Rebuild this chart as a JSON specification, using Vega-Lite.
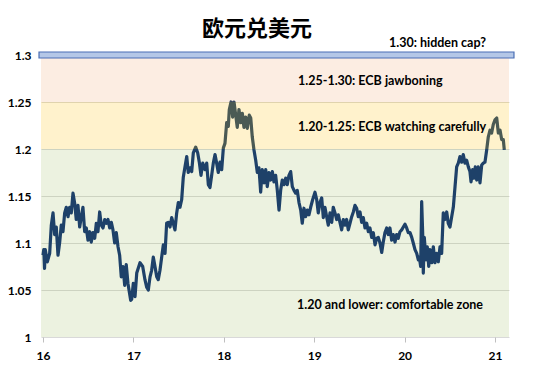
{
  "$schema": "https://vega.github.io/schema/vega-lite/v6.json",
  "width": 468,
  "height": 282,
  "autosize": {"type": "none"},
  "padding": {"left": 41, "top": 55, "right": 41, "bottom": 43},
  "background": "white",
  "title": {"text": "欧元兑美元", "font": "Noto Sans CJK SC", "fontSize": 22, "fontWeight": "bold", "color": "#000000", "anchor": "middle", "offset": -4, "dx": -18},
  "config": {
    "view": {"stroke": null},
    "axis": {"labelFont": "Lato", "labelFontWeight": "bold", "labelFontSize": 12, "labelColor": "#000000"}
  },
  "datasets": {
    "bands": [
      {"zone": "green", "lo": 1.0, "hi": 1.2},
      {"zone": "yellow", "lo": 1.2, "hi": 1.25},
      {"zone": "pink", "lo": 1.25, "hi": 1.3}
    ],
    "cap": [{"x1": 15.956, "x2": 21.21, "lo": 1.2968, "hi": 1.3032}],
    "notes": [
      {"label": "1.30: hidden cap?", "t": 19.827, "v": 1.3128},
      {"label": "1.25-1.30: ECB jawboning", "t": 18.821, "v": 1.2723},
      {"label": "1.20-1.25: ECB watching carefully", "t": 18.821, "v": 1.2234},
      {"label": "1.20 and lower: comfortable zone", "t": 18.81, "v": 1.034}
    ],
    "fx": [
      {"t": 16.000, "v": 1.087}, {"t": 16.009, "v": 1.093}, {"t": 16.017, "v": 1.073}, {"t": 16.025, "v": 1.093},
      {"t": 16.048, "v": 1.080}, {"t": 16.074, "v": 1.089}, {"t": 16.092, "v": 1.119}, {"t": 16.111, "v": 1.132},
      {"t": 16.129, "v": 1.109}, {"t": 16.147, "v": 1.117}, {"t": 16.166, "v": 1.087}, {"t": 16.185, "v": 1.101},
      {"t": 16.202, "v": 1.119}, {"t": 16.221, "v": 1.112}, {"t": 16.240, "v": 1.132}, {"t": 16.258, "v": 1.138},
      {"t": 16.277, "v": 1.128}, {"t": 16.295, "v": 1.138}, {"t": 16.313, "v": 1.132}, {"t": 16.332, "v": 1.153},
      {"t": 16.351, "v": 1.142}, {"t": 16.368, "v": 1.125}, {"t": 16.387, "v": 1.140}, {"t": 16.406, "v": 1.117},
      {"t": 16.424, "v": 1.128}, {"t": 16.442, "v": 1.138}, {"t": 16.461, "v": 1.112}, {"t": 16.479, "v": 1.116},
      {"t": 16.498, "v": 1.103}, {"t": 16.517, "v": 1.112}, {"t": 16.534, "v": 1.101}, {"t": 16.553, "v": 1.111},
      {"t": 16.572, "v": 1.105}, {"t": 16.590, "v": 1.121}, {"t": 16.608, "v": 1.112}, {"t": 16.627, "v": 1.133},
      {"t": 16.645, "v": 1.119}, {"t": 16.664, "v": 1.116}, {"t": 16.683, "v": 1.125}, {"t": 16.700, "v": 1.121},
      {"t": 16.719, "v": 1.125}, {"t": 16.738, "v": 1.116}, {"t": 16.756, "v": 1.122}, {"t": 16.774, "v": 1.114},
      {"t": 16.793, "v": 1.100}, {"t": 16.811, "v": 1.111}, {"t": 16.830, "v": 1.096}, {"t": 16.848, "v": 1.087},
      {"t": 16.866, "v": 1.064}, {"t": 16.885, "v": 1.075}, {"t": 16.904, "v": 1.055}, {"t": 16.921, "v": 1.077},
      {"t": 16.940, "v": 1.057}, {"t": 16.970, "v": 1.039}, {"t": 16.981, "v": 1.040}, {"t": 16.999, "v": 1.057},
      {"t": 17.018, "v": 1.043}, {"t": 17.037, "v": 1.068}, {"t": 17.073, "v": 1.079}, {"t": 17.103, "v": 1.075},
      {"t": 17.128, "v": 1.061}, {"t": 17.147, "v": 1.053}, {"t": 17.165, "v": 1.050}, {"t": 17.184, "v": 1.064},
      {"t": 17.202, "v": 1.071}, {"t": 17.220, "v": 1.085}, {"t": 17.239, "v": 1.075}, {"t": 17.258, "v": 1.064},
      {"t": 17.275, "v": 1.061}, {"t": 17.294, "v": 1.071}, {"t": 17.313, "v": 1.085}, {"t": 17.331, "v": 1.098},
      {"t": 17.350, "v": 1.089}, {"t": 17.368, "v": 1.121}, {"t": 17.386, "v": 1.122}, {"t": 17.405, "v": 1.117},
      {"t": 17.424, "v": 1.127}, {"t": 17.441, "v": 1.121}, {"t": 17.460, "v": 1.114}, {"t": 17.479, "v": 1.132},
      {"t": 17.497, "v": 1.143}, {"t": 17.515, "v": 1.138}, {"t": 17.534, "v": 1.146}, {"t": 17.552, "v": 1.170},
      {"t": 17.571, "v": 1.181}, {"t": 17.590, "v": 1.192}, {"t": 17.607, "v": 1.175}, {"t": 17.626, "v": 1.180},
      {"t": 17.645, "v": 1.176}, {"t": 17.663, "v": 1.196}, {"t": 17.689, "v": 1.202}, {"t": 17.711, "v": 1.196},
      {"t": 17.729, "v": 1.186}, {"t": 17.748, "v": 1.172}, {"t": 17.767, "v": 1.185}, {"t": 17.792, "v": 1.178},
      {"t": 17.811, "v": 1.185}, {"t": 17.829, "v": 1.162}, {"t": 17.847, "v": 1.159}, {"t": 17.866, "v": 1.172},
      {"t": 17.884, "v": 1.185}, {"t": 17.903, "v": 1.194}, {"t": 17.921, "v": 1.185}, {"t": 17.939, "v": 1.175},
      {"t": 17.958, "v": 1.186}, {"t": 17.977, "v": 1.178}, {"t": 17.995, "v": 1.201}, {"t": 18.013, "v": 1.206},
      {"t": 18.032, "v": 1.228}, {"t": 18.050, "v": 1.224}, {"t": 18.061, "v": 1.242}, {"t": 18.080, "v": 1.250},
      {"t": 18.098, "v": 1.234}, {"t": 18.113, "v": 1.250}, {"t": 18.132, "v": 1.236}, {"t": 18.149, "v": 1.223},
      {"t": 18.168, "v": 1.242}, {"t": 18.187, "v": 1.228}, {"t": 18.205, "v": 1.238}, {"t": 18.223, "v": 1.223},
      {"t": 18.242, "v": 1.234}, {"t": 18.260, "v": 1.222}, {"t": 18.282, "v": 1.236}, {"t": 18.298, "v": 1.233},
      {"t": 18.315, "v": 1.213}, {"t": 18.334, "v": 1.199}, {"t": 18.353, "v": 1.188}, {"t": 18.371, "v": 1.175},
      {"t": 18.389, "v": 1.180}, {"t": 18.408, "v": 1.154}, {"t": 18.426, "v": 1.178}, {"t": 18.445, "v": 1.164},
      {"t": 18.464, "v": 1.178}, {"t": 18.481, "v": 1.160}, {"t": 18.500, "v": 1.175}, {"t": 18.519, "v": 1.167},
      {"t": 18.537, "v": 1.176}, {"t": 18.555, "v": 1.165}, {"t": 18.574, "v": 1.172}, {"t": 18.592, "v": 1.156},
      {"t": 18.611, "v": 1.135}, {"t": 18.629, "v": 1.156}, {"t": 18.647, "v": 1.167}, {"t": 18.666, "v": 1.162},
      {"t": 18.685, "v": 1.169}, {"t": 18.702, "v": 1.162}, {"t": 18.721, "v": 1.172}, {"t": 18.740, "v": 1.176},
      {"t": 18.758, "v": 1.160}, {"t": 18.777, "v": 1.156}, {"t": 18.795, "v": 1.153}, {"t": 18.813, "v": 1.156},
      {"t": 18.832, "v": 1.143}, {"t": 18.851, "v": 1.135}, {"t": 18.868, "v": 1.121}, {"t": 18.887, "v": 1.137},
      {"t": 18.906, "v": 1.128}, {"t": 18.924, "v": 1.135}, {"t": 18.942, "v": 1.130}, {"t": 18.961, "v": 1.138},
      {"t": 18.983, "v": 1.146}, {"t": 19.009, "v": 1.154}, {"t": 19.028, "v": 1.146}, {"t": 19.045, "v": 1.132},
      {"t": 19.064, "v": 1.143}, {"t": 19.083, "v": 1.148}, {"t": 19.101, "v": 1.127}, {"t": 19.119, "v": 1.138},
      {"t": 19.138, "v": 1.128}, {"t": 19.156, "v": 1.119}, {"t": 19.175, "v": 1.132}, {"t": 19.194, "v": 1.122},
      {"t": 19.211, "v": 1.138}, {"t": 19.230, "v": 1.132}, {"t": 19.249, "v": 1.125}, {"t": 19.267, "v": 1.130},
      {"t": 19.285, "v": 1.122}, {"t": 19.304, "v": 1.114}, {"t": 19.322, "v": 1.125}, {"t": 19.341, "v": 1.119},
      {"t": 19.359, "v": 1.125}, {"t": 19.377, "v": 1.114}, {"t": 19.396, "v": 1.121}, {"t": 19.415, "v": 1.128},
      {"t": 19.433, "v": 1.133}, {"t": 19.451, "v": 1.140}, {"t": 19.470, "v": 1.137}, {"t": 19.488, "v": 1.128},
      {"t": 19.507, "v": 1.133}, {"t": 19.525, "v": 1.122}, {"t": 19.543, "v": 1.127}, {"t": 19.562, "v": 1.116},
      {"t": 19.581, "v": 1.121}, {"t": 19.599, "v": 1.112}, {"t": 19.617, "v": 1.116}, {"t": 19.636, "v": 1.106},
      {"t": 19.654, "v": 1.111}, {"t": 19.673, "v": 1.098}, {"t": 19.691, "v": 1.105}, {"t": 19.709, "v": 1.106},
      {"t": 19.728, "v": 1.100}, {"t": 19.747, "v": 1.090}, {"t": 19.764, "v": 1.101}, {"t": 19.783, "v": 1.111},
      {"t": 19.802, "v": 1.116}, {"t": 19.820, "v": 1.109}, {"t": 19.838, "v": 1.116}, {"t": 19.857, "v": 1.103},
      {"t": 19.875, "v": 1.109}, {"t": 19.894, "v": 1.101}, {"t": 19.912, "v": 1.109}, {"t": 19.930, "v": 1.105},
      {"t": 19.949, "v": 1.112}, {"t": 19.968, "v": 1.114}, {"t": 19.986, "v": 1.117}, {"t": 20.004, "v": 1.120},
      {"t": 20.023, "v": 1.116}, {"t": 20.041, "v": 1.111}, {"t": 20.060, "v": 1.111}, {"t": 20.079, "v": 1.106},
      {"t": 20.096, "v": 1.100}, {"t": 20.115, "v": 1.093}, {"t": 20.134, "v": 1.089}, {"t": 20.152, "v": 1.082},
      {"t": 20.163, "v": 1.085}, {"t": 20.178, "v": 1.075}, {"t": 20.189, "v": 1.144}, {"t": 20.200, "v": 1.111},
      {"t": 20.207, "v": 1.068}, {"t": 20.218, "v": 1.106}, {"t": 20.237, "v": 1.082}, {"t": 20.251, "v": 1.096},
      {"t": 20.267, "v": 1.075}, {"t": 20.281, "v": 1.093}, {"t": 20.300, "v": 1.079}, {"t": 20.318, "v": 1.096},
      {"t": 20.336, "v": 1.079}, {"t": 20.355, "v": 1.089}, {"t": 20.373, "v": 1.080}, {"t": 20.392, "v": 1.096},
      {"t": 20.410, "v": 1.089}, {"t": 20.428, "v": 1.132}, {"t": 20.447, "v": 1.125}, {"t": 20.466, "v": 1.133},
      {"t": 20.483, "v": 1.121}, {"t": 20.502, "v": 1.117}, {"t": 20.521, "v": 1.128}, {"t": 20.539, "v": 1.138},
      {"t": 20.558, "v": 1.160}, {"t": 20.576, "v": 1.181}, {"t": 20.594, "v": 1.185}, {"t": 20.613, "v": 1.192},
      {"t": 20.632, "v": 1.186}, {"t": 20.649, "v": 1.194}, {"t": 20.668, "v": 1.185}, {"t": 20.687, "v": 1.188},
      {"t": 20.705, "v": 1.181}, {"t": 20.723, "v": 1.176}, {"t": 20.735, "v": 1.165}, {"t": 20.753, "v": 1.178},
      {"t": 20.768, "v": 1.169}, {"t": 20.782, "v": 1.181}, {"t": 20.798, "v": 1.167}, {"t": 20.815, "v": 1.181},
      {"t": 20.834, "v": 1.164}, {"t": 20.853, "v": 1.183}, {"t": 20.871, "v": 1.185}, {"t": 20.889, "v": 1.186},
      {"t": 20.908, "v": 1.199}, {"t": 20.926, "v": 1.213}, {"t": 20.945, "v": 1.220}, {"t": 20.963, "v": 1.217},
      {"t": 20.981, "v": 1.226}, {"t": 21.000, "v": 1.231}, {"t": 21.019, "v": 1.233}, {"t": 21.037, "v": 1.217},
      {"t": 21.056, "v": 1.220}, {"t": 21.074, "v": 1.210}, {"t": 21.092, "v": 1.210}, {"t": 21.103, "v": 1.199}
    ]
  },
  "layer": [
    {
      "data": {"name": "bands"},
      "transform": [{"filter": "datum.zone === 'green'"}],
      "mark": {"type": "rect", "fill": "#9BBB59", "opacity": 0.19},
      "encoding": {
        "y": {"field": "lo", "type": "quantitative", "scale": {"domain": [1, 1.3], "nice": false, "zero": false}},
        "y2": {"field": "hi"}
      }
    },
    {
      "data": {"name": "fx"},
      "mark": {"type": "line", "stroke": "#1E4169", "strokeWidth": 3.2, "strokeJoin": "round"},
      "encoding": {
        "x": {
          "field": "t", "type": "quantitative",
          "scale": {"domain": [15.978, 21.155], "nice": false, "zero": false},
          "axis": {"title": null, "values": [16, 17, 18, 19, 20, 21], "format": "d", "grid": false, "domain": false, "ticks": true, "tickColor": "#bfbfbf", "tickSize": 5, "labelPadding": 8}
        },
        "y": {
          "field": "v", "type": "quantitative",
          "scale": {"domain": [1, 1.3], "nice": false, "zero": false},
          "axis": {"title": null, "values": [1, 1.05, 1.1, 1.15, 1.2, 1.25, 1.3], "format": ".3~g", "domain": false, "ticks": false, "labelPadding": 10, "grid": true, "gridColor": "#d9d9d9", "gridWidth": 1}
        }
      }
    },
    {
      "data": {"name": "bands"},
      "transform": [{"filter": "datum.zone === 'yellow'"}],
      "mark": {"type": "rect", "fill": "#FFC000", "opacity": 0.2},
      "encoding": {
        "y": {"field": "lo", "type": "quantitative"},
        "y2": {"field": "hi"}
      }
    },
    {
      "data": {"name": "bands"},
      "transform": [{"filter": "datum.zone === 'pink'"}],
      "mark": {"type": "rect", "fill": "#ED7D31", "opacity": 0.14},
      "encoding": {
        "y": {"field": "lo", "type": "quantitative"},
        "y2": {"field": "hi"}
      }
    },
    {
      "data": {"name": "cap"},
      "mark": {"type": "rect", "fill": "#B4C7E7", "stroke": "#4A6FB5", "strokeWidth": 1.2},
      "encoding": {
        "x": {"field": "x1", "type": "quantitative"},
        "x2": {"field": "x2"},
        "y": {"field": "lo", "type": "quantitative"},
        "y2": {"field": "hi"}
      }
    },
    {
      "data": {"name": "notes"},
      "mark": {"type": "text", "align": "left", "baseline": "middle", "font": "Lato", "fontWeight": "bold", "fontSize": 12.5, "color": "#000000"},
      "encoding": {
        "x": {"field": "t", "type": "quantitative"},
        "y": {"field": "v", "type": "quantitative"},
        "text": {"field": "label"}
      }
    }
  ]
}
